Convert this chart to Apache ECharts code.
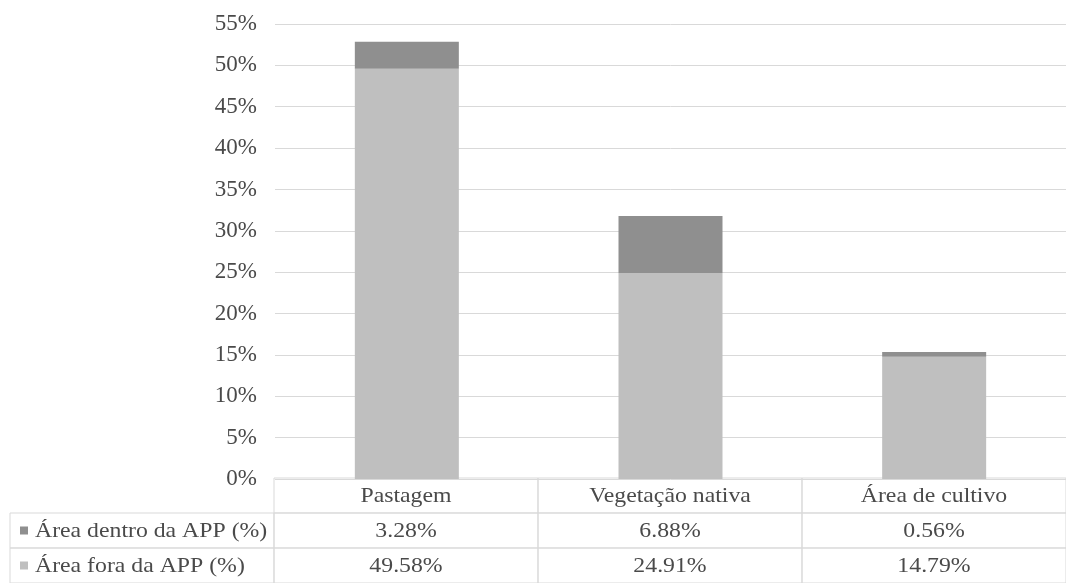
<!DOCTYPE html>
<html>
<head>
<meta charset="utf-8">
<script src="https://cdn.jsdelivr.net/npm/echarts@6/dist/echarts.min.js"></script>
<style>
  html, body { margin: 0; padding: 0; background: #fff; }
  #chart { width: 1066px; height: 583px; }
</style>
</head>
<body>
<div id="chart"></div>
<script>
// Land use shares, inside and outside the permanent preservation area (APP)
const categories = ['Pastagem', 'Vegetação nativa', 'Área de cultivo'];
const seriesNames = ['Área dentro da APP (%)', 'Área fora da APP (%)'];
const dentro = [3.28, 6.88, 0.56];
const fora = [49.58, 24.91, 14.79];
const seriesColors = ['#8f8f8f', '#bfbfbf'];

const FONT = '"Liberation Serif", "Times New Roman", serif';
const TEXT = '#4a4a4a';
const LINE = '#d9d9d9';

// Data table: column 0 holds the legend keys, columns 1..3 the categories;
// row 0 holds category names, rows 1..2 the series values.
const tableRows = [null, dentro, fora];
const tableCells = [];
for (let c = 0; c <= categories.length; c++) {
  for (let r = 0; r < tableRows.length; r++) tableCells.push([c, r]);
}

function renderCell(params, api) {
  const c = api.value(0), r = api.value(1);
  if (c === 0 && r === 0) return null;
  const ctr = api.coord([c, r]);
  const sz = api.size([1, 1]);
  const x0 = ctr[0] - sz[0] / 2, y0 = ctr[1] - sz[1] / 2;
  const children = [{
    type: 'rect',
    shape: { x: x0, y: y0, width: sz[0], height: sz[1] },
    style: { fill: null, stroke: LINE, lineWidth: 1 }
  }];
  const textStyle = { fill: TEXT, font: '22px ' + FONT, verticalAlign: 'middle' };
  if (c === 0) {
    const si = r - 1;
    children.push({
      type: 'rect',
      shape: { x: x0 + 10, y: ctr[1] - 4, width: 8, height: 8 },
      style: { fill: seriesColors[si] }
    });
    children.push({
      type: 'text', x: x0 + 25, y: ctr[1] + 1, scaleX: 1.08,
      style: Object.assign({ text: seriesNames[si], align: 'left' }, textStyle)
    });
  } else {
    const txt = r === 0 ? categories[c - 1] : tableRows[r][c - 1].toFixed(2) + '%';
    children.push({
      type: 'text', x: ctr[0], y: ctr[1] + 1, scaleX: 1.08,
      style: Object.assign({ text: txt, align: 'center' }, textStyle)
    });
  }
  return { type: 'group', children: children };
}

const chart = echarts.init(document.getElementById('chart'), null, { renderer: 'canvas' });
chart.setOption({
  animation: false,
  backgroundColor: '#ffffff',
  grid: [
    { left: 275, top: 24, width: 795, height: 455 },
    { left: 10, top: 478, width: 1060, height: 105 }
  ],
  xAxis: [
    {
      type: 'category', gridIndex: 0, data: categories,
      axisLine: { show: false }, axisTick: { show: false }, axisLabel: { show: false }
    },
    {
      type: 'category', gridIndex: 1, data: [''].concat(categories), show: false
    }
  ],
  yAxis: [
    {
      type: 'value', gridIndex: 0, min: 0, max: 55, interval: 5,
      axisLine: { show: false }, axisTick: { show: false },
      axisLabel: { formatter: '{value}%', color: TEXT, fontFamily: FONT, fontSize: 23, margin: 18 },
      splitLine: { lineStyle: { color: LINE, width: 1 } }
    },
    {
      type: 'category', gridIndex: 1, data: ['0', '1', '2'], inverse: true, show: false
    }
  ],
  series: [
    {
      name: seriesNames[1], type: 'bar', stack: 'total', data: fora,
      barWidth: 104, itemStyle: { color: seriesColors[1] }, silent: true
    },
    {
      name: seriesNames[0], type: 'bar', stack: 'total', data: dentro,
      barWidth: 104, itemStyle: { color: seriesColors[0] }, silent: true
    },
    {
      type: 'custom', xAxisIndex: 1, yAxisIndex: 1, data: tableCells,
      renderItem: renderCell, clip: false, silent: true
    }
  ]
});
</script>
</body>
</html>
